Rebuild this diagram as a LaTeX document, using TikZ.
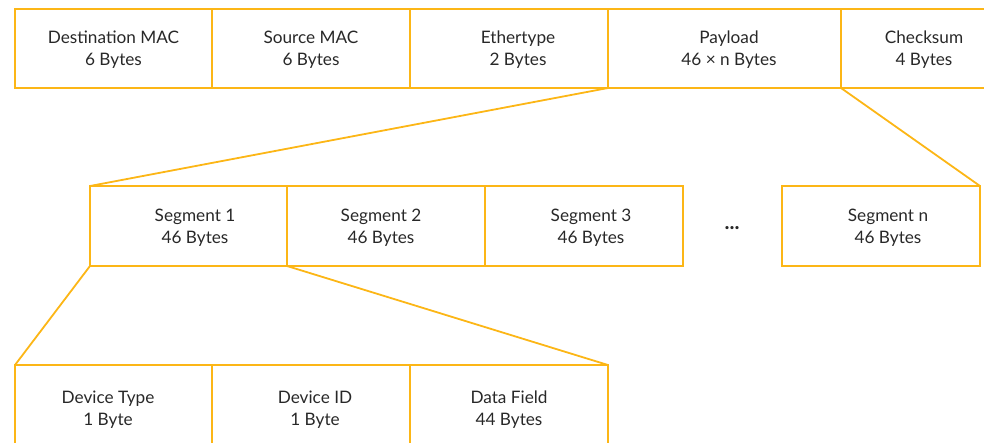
\documentclass[tikz,border=0pt]{standalone}
\usepackage{fontspec}
\setmainfont{Lato}
\definecolor{frameorange}{RGB}{252,182,22}
\definecolor{textgray}{RGB}{40,40,40}
\begin{document}
\begin{tikzpicture}[x=1pt,y=-1pt,
  fieldbox/.style={draw=frameorange,line width=2.2pt,rectangle,anchor=north west,outer sep=0pt,inner sep=0pt},
  fieldlabel/.style={align=center,text=textgray,font=\fontsize{17.2}{22}\selectfont,inner sep=0pt},
  link/.style={draw=frameorange,line width=1.8pt}]
\useasboundingbox (0,0) rectangle (984,442);
% top row
\node[fieldbox,minimum width=197,minimum height=79] (dst) at (15,9) {};
\node[fieldbox,minimum width=198,minimum height=79] (src) at (212,9) {};
\node[fieldbox,minimum width=198,minimum height=79] (eth) at (410,9) {};
\node[fieldbox,minimum width=233,minimum height=79] (pay) at (608,9) {};
\node[fieldbox,minimum width=166,minimum height=79] (chk) at (841,9) {};
\node[fieldlabel] (ldst) at (113.5,49.5) {Destination MAC\\6 Bytes};
\node[fieldlabel] (lsrc) at (311,49.5) {Source MAC\\6 Bytes};
\node[fieldlabel] (leth) at (518,49.5) {Ethertype\\2 Bytes};
\node[fieldlabel] (lpay) at (729,49.5) {Payload\\46 × n Bytes};
\node[fieldlabel] (lchk) at (924,49.5) {Checksum\\4 Bytes};
% middle row
\node[fieldbox,minimum width=197,minimum height=80] (s1) at (90,186) {};
\node[fieldbox,minimum width=198,minimum height=80] (s2) at (287,186) {};
\node[fieldbox,minimum width=198,minimum height=80] (s3) at (485,186) {};
\node[fieldbox,minimum width=198,minimum height=80] (sn) at (782,186) {};
\node[fieldlabel] (ls1) at (195,228) {Segment 1\\46 Bytes};
\node[fieldlabel] (ls2) at (381,228) {Segment 2\\46 Bytes};
\node[fieldlabel] (ls3) at (591,228) {Segment 3\\46 Bytes};
\node[fieldlabel] (lsn) at (888,228) {Segment n\\46 Bytes};
\node[text=textgray,font=\bfseries\fontsize{21}{21}\selectfont,inner sep=0pt] (dots) at (732,228) {...};
% bottom row
\node[fieldbox,minimum width=197,minimum height=88] (dt) at (15,365) {};
\node[fieldbox,minimum width=198,minimum height=88] (di) at (212,365) {};
\node[fieldbox,minimum width=198,minimum height=88] (df) at (410,365) {};
\node[fieldlabel] (ldt) at (108,410) {Device Type\\1 Byte};
\node[fieldlabel] (ldi) at (315,410) {Device ID\\1 Byte};
\node[fieldlabel] (ldf) at (509,410) {Data Field\\44 Bytes};
% connectors
\draw[link] (pay.south west) -- (s1.north west);
\draw[link] (chk.south west) -- (sn.north east);
\draw[link] (s1.south west) -- (dt.north west);
\draw[link] (s1.south east) -- (df.north east);
\end{tikzpicture}
\end{document}
